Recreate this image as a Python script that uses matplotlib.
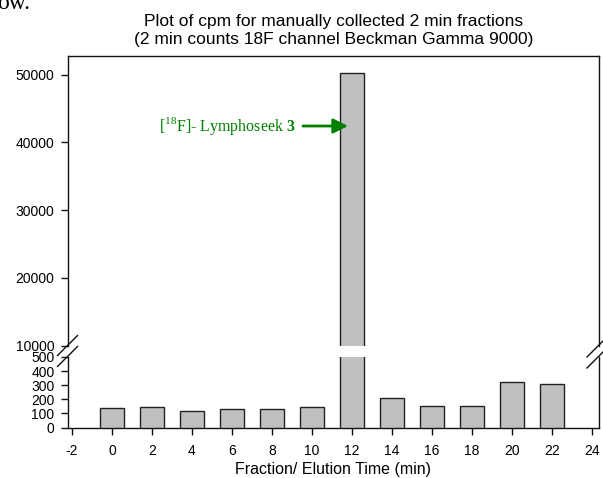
import matplotlib
matplotlib.use("Agg")
import matplotlib.pyplot as plt
from matplotlib.lines import Line2D

plt.rcParams['font.family'] = ['Liberation Sans', 'DejaVu Sans']
plt.rcParams['axes.unicode_minus'] = False
plt.rcParams['mathtext.fontset'] = 'custom'
plt.rcParams['mathtext.rm'] = 'Liberation Serif'
plt.rcParams['mathtext.bf'] = 'Liberation Serif:bold'

# ---- data ----
fractions = [0, 2, 4, 6, 8, 10, 12, 14, 16, 18, 20, 22]
cpm = [138, 142, 119, 128, 131, 145, 50200, 210, 154, 151, 325, 306]
x_ticks = [-2, 0, 2, 4, 6, 8, 10, 12, 14, 16, 18, 20, 22, 24]
low_ticks = [0, 100, 200, 300, 400, 500]
high_ticks = [10000, 20000, 30000, 40000, 50000]
title = "Plot of cpm for manually collected 2 min fractions\n(2 min counts 18F channel Beckman Gamma 9000)"
xlabel = "Fraction/ Elution Time (min)"
peak_label = r"[$^{18}$F]- Lymphoseek $\mathbf{3}$"

W, H = 603, 478
fig = plt.figure(figsize=(W / 100, H / 100), dpi=100)

def px(x0, y0, x1, y1):
    return [x0 / W, (H - y1) / H, (x1 - x0) / W, (y1 - y0) / H]

left, right = 67.7, 599.0
ax_hi = fig.add_axes(px(left, 56, right, 345.5))
ax_lo = fig.add_axes(px(left, 357, right, 427.5))

bar_kw = dict(width=1.2, color='#c0c0c0', edgecolor='#222222', linewidth=1.0, zorder=3)
for ax in (ax_hi, ax_lo):
    ax.bar(fractions, cpm, **bar_kw)
    ax.set_xlim(-2.215, 24.35)
    for s in ax.spines.values():
        s.set_linewidth(1.0)
        s.set_color('#111111')
    ax.tick_params(direction='out', length=5, width=1.0, labelsize=10, color='#111111')
    ax.tick_params(axis='y', pad=4.5)

ax_hi.set_ylim(10000, 52760)
ax_hi.set_yticks(high_ticks)
ax_hi.spines['bottom'].set_visible(False)
ax_hi.tick_params(axis='x', bottom=False, labelbottom=False)

ax_lo.set_ylim(0, 500)
ax_lo.set_yticks(low_ticks)
ax_lo.spines['top'].set_visible(False)
ax_lo.set_xticks(x_ticks)
ax_lo.tick_params(axis='x', pad=7)
ax_lo.set_xlabel(xlabel, fontsize=11.5, labelpad=3)

ax_hi.set_title(title, fontsize=12.5, pad=9, linespacing=1.2)

# annotation
ax_hi.annotate(peak_label, xy=(11.8, 42420), xytext=(9.2, 42420),
               ha='right', va='center', color='#008000', fontsize=11.5,
               family='Liberation Serif',
               arrowprops=dict(arrowstyle='-|>', color='#008000', lw=2,
                               mutation_scale=22, shrinkA=3, shrinkB=0))

# break marks (figure pixel coords)
def brk(cx, cy, d=10):
    fig.add_artist(Line2D([(cx - d) / W, (cx + d) / W],
                          [(H - (cy + d)) / H, (H - (cy - d)) / H],
                          color='#111111', lw=1.0))

brk(67.5, 345.5)
brk(67.5, 356.5)
brk(595, 349, 8)
brk(595, 360, 8)

fig.text(-0.004, 1 - 9 / H, "ow.", family='Liberation Serif', fontsize=17,
         va='baseline', ha='left')

fig.savefig("out.png", dpi=100)
